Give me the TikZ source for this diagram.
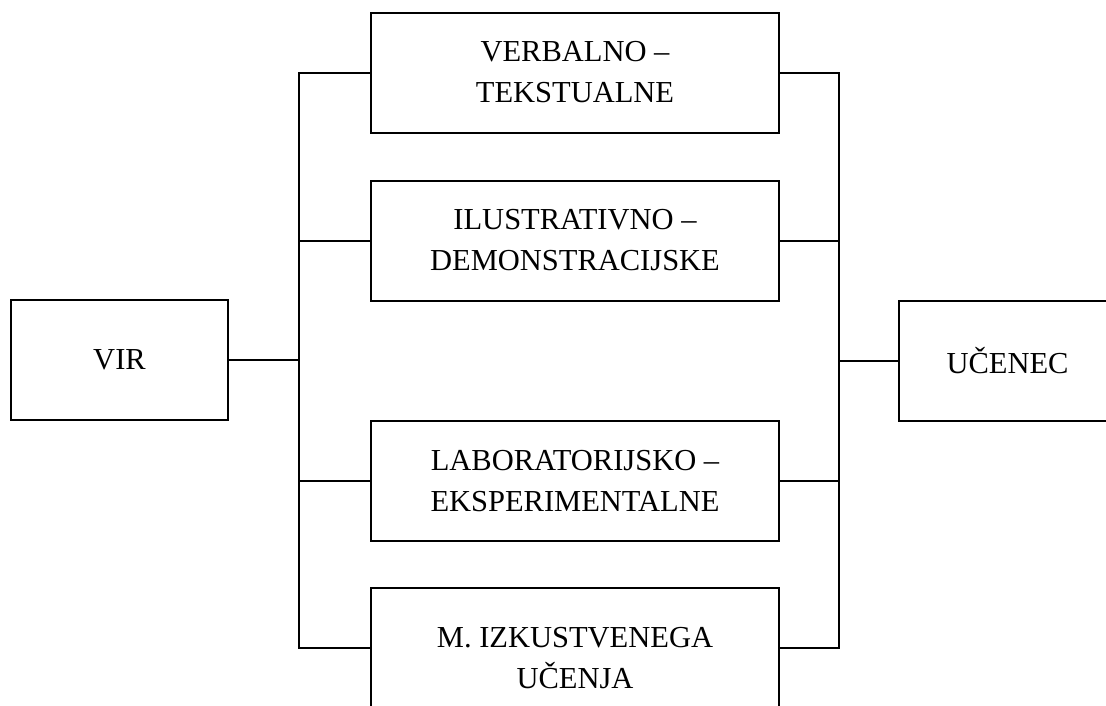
\documentclass[tikz,border=0pt]{standalone}
\usepackage{fontspec}
\setmainfont{Liberation Serif}
\usepackage{tikz}

\begin{document}
\begin{tikzpicture}[x=1pt,y=-1pt, line width=2pt,
	box/.style={draw, line width=2pt, align=center, inner sep=0pt, font=\fontsize{30.5}{41}\selectfont},
	endbox/.style={box, minimum width=217, minimum height=120},
	midbox/.style={box, minimum width=408, minimum height=120}]
	\useasboundingbox (0,0) rectangle (1106,705);
	% ends
	\node[endbox] (vir) at (119.5,360) {VIR};
	\node[endbox] (ucenec) at (1007.5,360.5) {UČENEC};
	% kinds of methods
	\node[midbox] (verb) at (575,72.5) {VERBALNO –\\TEKSTUALNE};
	\node[midbox] (ilus) at (575,240.5) {ILUSTRATIVNO –\\DEMONSTRACIJSKE};
	\node[midbox] (lab) at (575,481) {LABORATORIJSKO –\\EKSPERIMENTALNE};
	\node[midbox, minimum height=140] (izk) at (575,658) {M. IZKUSTVENEGA\\UČENJA};
	% the two buses
	\coordinate (ltop) at (299,72.5);
	\coordinate (lbot) at (299,648);
	\coordinate (rtop) at (839,72.5);
	\coordinate (rbot) at (839,648);
	\draw (verb.west) -- (ltop) -- (lbot) -- (lbot -| izk.west);
	\draw (verb.east) -- (rtop) -- (rbot) -- (rbot -| izk.east);
	\draw (vir.east) -- (vir.east -| ltop);
	\draw (ucenec.west) -- (ucenec.west -| rtop);
	\foreach \m in {ilus,lab} {\draw (\m.west -| ltop) -- (\m.west); \draw (\m.east) -- (\m.east -| rtop);}
\end{tikzpicture}
\end{document}
